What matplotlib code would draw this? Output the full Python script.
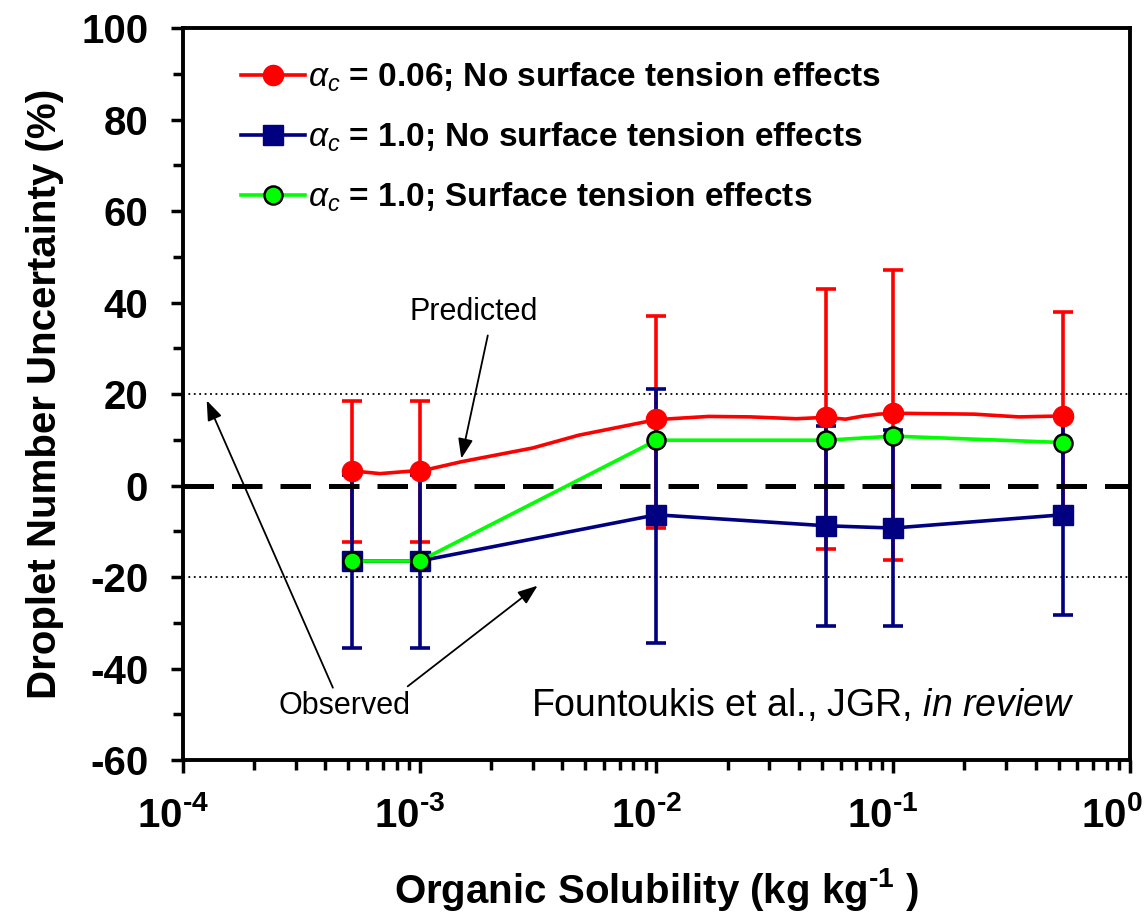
import numpy as np
import matplotlib
matplotlib.use('Agg')
from matplotlib import pyplot as plt
from matplotlib.lines import Line2D
from matplotlib.transforms import ScaledTranslation
from matplotlib.ticker import FixedLocator, FixedFormatter, LogLocator, NullFormatter, MultipleLocator

plt.rcParams['font.family'] = ['Liberation Sans', 'DejaVu Sans']
plt.rcParams['mathtext.fontset'] = 'custom'
plt.rcParams['mathtext.rm'] = 'Liberation Sans'
plt.rcParams['mathtext.it'] = 'Liberation Sans:italic'
plt.rcParams['mathtext.bf'] = 'Liberation Sans:bold'
plt.rcParams['axes.unicode_minus'] = False

# solubility values (kg/kg)
solubility = [5.2e-4, 1e-3, 1e-2, 5.2e-2, 1e-1, 5.2e-1]

# alpha_c = 0.06, no surface tension (markers + error bar ends)
red_vals = [3.2, 3.2, 14.5, 14.9, 15.8, 15.2]
red_hi = [18.4, 18.4, 37.1, 43.0, 47.1, 38.0]
red_lo = [-12.3, -12.3, -9.2, -13.9, -16.2, -8.1]

# red model curve
red_curve_x = [5.2e-4, 6.8e-4, 1e-3, 1.1e-3, 1.5e-3, 3e-3, 4.7e-3, 1e-2, 1.66e-2, 2.5e-2,
               3.9e-2, 5.2e-2, 6.3e-2, 7.3e-2, 8.7e-2, 1e-1, 2.2e-1, 3.4e-1, 5.2e-1]
red_curve_y = [3.2, 2.6, 3.3, 3.6, 5.2, 8.2, 11.0, 14.4, 15.1, 15.0,
               14.6, 14.9, 14.5, 15.1, 15.6, 15.8, 15.6, 15.0, 15.2]

# alpha_c = 1.0, no surface tension
blue_vals = [-16.5, -16.5, -6.4, -8.8, -9.3, -6.4]
blue_hi = [2.2, 2.2, 21.2, 13.0, 12.1, 15.5]
blue_lo = [-35.5, -35.5, -34.5, -30.7, -30.7, -28.3]

# alpha_c = 1.0, surface tension effects
green_vals = [-16.5, -16.5, 9.9, 9.9, 10.8, 9.4]

x_tick_exps = ['-4', '-3', '-2', '-1', '0']

RED = '#ff0000'
BLUE = '#000080'
GREEN = '#00ff00'
HY = '\u2010'  # plain hyphen, like the original labels

fig = plt.figure(figsize=(11.47, 9.22), dpi=100)
ax = fig.add_axes([0.1595, 0.1757, 0.8255, 0.7939])
ax.set_xscale('log')

# reference lines
ax.axhline(20, color='black', lw=1.3, ls=(0, (1, 2)), zorder=1)
ax.axhline(-20, color='black', lw=1.3, ls=(0, (1, 2)), zorder=1)
ax.axhline(0, color='black', lw=3.6, ls=(0, (6.1, 3.6)), zorder=3.5)

# error bars
red_err = [np.array(red_vals) - np.array(red_lo), np.array(red_hi) - np.array(red_vals)]
blue_err = [np.array(blue_vals) - np.array(blue_lo), np.array(blue_hi) - np.array(blue_vals)]
ax.errorbar(solubility, red_vals, yerr=red_err, fmt='none', ecolor=RED, elinewidth=2.6,
            capsize=7, capthick=2.6, zorder=2)
ax.errorbar(solubility, blue_vals, yerr=blue_err, fmt='none', ecolor=BLUE, elinewidth=2.6,
            capsize=7, capthick=2.6, zorder=3)

# lines and markers
ax.plot(red_curve_x, red_curve_y, color=RED, lw=2.6, zorder=4)
ax.plot(solubility, red_vals, 'o', color=RED, ms=14.5, zorder=5)
ax.plot(solubility, blue_vals, '-s', color=BLUE, lw=2.6, ms=14, zorder=5)
ax.plot(solubility, green_vals, '-o', color=GREEN, lw=2.6, ms=13, mfc=GREEN,
        mec='black', mew=1.8, zorder=6)

ax.set_xlim(1e-4, 1)
ax.set_ylim(-60, 100)

# axes styling
for s in ax.spines.values():
    s.set_linewidth(2.8)
ax.yaxis.set_major_locator(MultipleLocator(20))
ax.yaxis.set_minor_locator(MultipleLocator(10))
ax.xaxis.set_major_locator(FixedLocator([1e-4, 1e-3, 1e-2, 1e-1, 1]))
ax.xaxis.set_major_formatter(FixedFormatter(
    [r'$\mathbf{10^{%s}}$' % e.replace('-', HY) for e in x_tick_exps]))
ax.xaxis.set_minor_locator(LogLocator(base=10, subs=np.arange(2, 10)))
ax.xaxis.set_minor_formatter(NullFormatter())
ax.tick_params(axis='both', which='major', direction='out', length=9, width=2.5,
               labelsize=29)
ax.tick_params(axis='both', which='minor', direction='out', length=7, width=2.5)
ax.tick_params(axis='x', which='major', pad=17)
ax.tick_params(axis='y', which='major', pad=16)
for lbl in ax.get_yticklabels():
    lbl.set_fontweight('bold')
# exponent labels sit slightly left of their ticks in the original
xlabels = ax.get_xticklabels()
for i, lbl in enumerate(xlabels):
    dx = -18 if i == len(xlabels) - 1 else -10
    lbl.set_transform(lbl.get_transform() + ScaledTranslation(dx / 100, 0, fig.dpi_scale_trans))

ax.set_ylabel('Droplet Number Uncertainty (%)', fontsize=29, fontweight='bold', labelpad=12)
ax.set_xlabel(r'Organic Solubility (kg kg$\mathbf{^{%s1}}$ )' % HY, fontsize=29,
              fontweight='bold', labelpad=22)

# legend
handles = [
    Line2D([], [], color=RED, lw=2.6, marker='o', ms=14.5),
    Line2D([], [], color=BLUE, lw=2.6, marker='s', ms=14),
    Line2D([], [], color=GREEN, lw=2.6, marker='o', ms=13, mfc=GREEN, mec='black', mew=1.8),
]
labels = [r'$\alpha_c$ = 0.06; No surface tension effects',
          r'$\alpha_c$ = 1.0; No surface tension effects',
          r'$\alpha_c$ = 1.0; Surface tension effects']
leg = ax.legend(handles, labels, loc='upper left', bbox_to_anchor=(0.03, 0.997), frameon=False,
                handlelength=1.9, handletextpad=0.1, labelspacing=0.8,
                prop={'size': 24, 'weight': 'bold'})

# annotations
arrow = dict(arrowstyle='-|>,head_length=1.2,head_width=0.45', color='black', lw=1.3,
             shrinkA=0, shrinkB=0)
ax.text(1.69e-3, 38.0, 'Predicted', fontsize=22, ha='center', va='center')
ax.annotate('', xy=(1.5e-3, 5.9), xytext=(1.94e-3, 32.8), arrowprops=arrow)
ax.text(4.83e-4, -48.1, 'Observed', fontsize=22, ha='center', va='center')
ax.annotate('', xy=(1.26e-4, 18.6), xytext=(4.3e-4, -44.2), arrowprops=arrow)
ax.annotate('', xy=(3.15e-3, -21.9), xytext=(8.9e-4, -43.9), arrowprops=arrow)
ax.text(0.655, -48.1, r'Fountoukis et al., JGR, $\it{in\ review}$', fontsize=27,
        ha='center', va='center', transform=ax.get_yaxis_transform())

fig.savefig('out.png', dpi=100)
